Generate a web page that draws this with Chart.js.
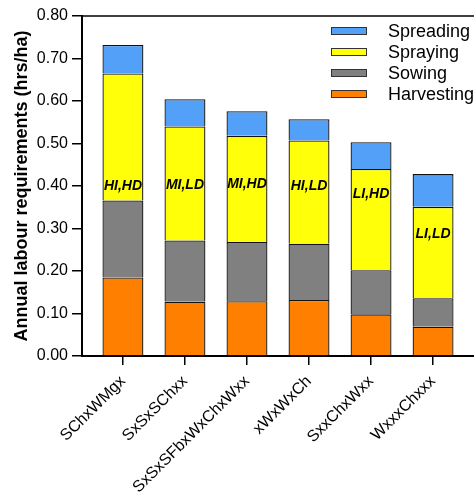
<!DOCTYPE html>
<html>
<head>
<meta charset="utf-8">
<script src="https://cdn.jsdelivr.net/npm/chart.js@4/dist/chart.umd.min.js"></script>
<style>
  html, body { margin: 0; padding: 0; background: #fff; }
  #wrap { width: 474px; height: 494px; }
</style>
</head>
<body>
<div id="wrap"><canvas id="c" width="474" height="494"></canvas></div>
<script>
// Crop sequences and their annual labour requirement per operation (hrs/ha)
const categories = ['SChxWMgx', 'SxSxSChxx', 'SxSxSFbxWxChxWxx', 'xWxWxCh', 'SxxChxWxx', 'WxxxChxxx'];
const harvesting = [0.185, 0.128, 0.129, 0.132, 0.098, 0.069];
const sowing     = [0.181, 0.144, 0.139, 0.132, 0.104, 0.067];
const spraying   = [0.299, 0.268, 0.250, 0.243, 0.238, 0.215];
const spreading  = [0.067, 0.064, 0.058, 0.050, 0.063, 0.077];
// Intensity / density scenario of each sequence
const scenarios  = ['HI,HD', 'MI,LD', 'MI,HD', 'HI,LD', 'LI,HD', 'LI,LD'];
const yTicks     = [0, 0.1, 0.2, 0.3, 0.4, 0.5, 0.6, 0.7, 0.8];

const FONT = "'Liberation Sans', Arial, Helvetica, sans-serif";
const toPoints = arr => arr.map((v, i) => ({ x: i, y: v }));

// Frame line along the top of the plot area
const topFrame = {
  id: 'topFrame',
  afterDraw(chart) {
    const { ctx, chartArea: a } = chart;
    ctx.save();
    ctx.strokeStyle = '#000';
    ctx.lineWidth = 1.5;
    ctx.beginPath();
    ctx.moveTo(a.left, a.top);
    ctx.lineTo(chart.width, a.top);
    ctx.stroke();
    ctx.restore();
  }
};

// Scenario tags written inside the spraying segment
const segTags = {
  id: 'segTags',
  afterDatasetsDraw(chart, args, opts) {
    const { ctx } = chart;
    const xs = chart.scales.x, ys = chart.scales.y;
    ctx.save();
    ctx.font = 'italic bold 14px ' + FONT;
    ctx.fillStyle = '#000';
    ctx.textAlign = 'center';
    ctx.textBaseline = 'middle';
    scenarios.forEach((t, i) => {
      ctx.fillText(t, xs.getPixelForValue(i), ys.getPixelForValue(opts.at[i]));
    });
    ctx.restore();
  }
};

// Legend in the upper right of the plot, top series first
const boxLegend = {
  id: 'boxLegend',
  afterDraw(chart, args, opts) {
    const { ctx } = chart;
    const sets = chart.data.datasets.slice().reverse();
    ctx.save();
    ctx.font = '18px ' + FONT;
    ctx.textBaseline = 'middle';
    ctx.textAlign = 'left';
    sets.forEach((ds, k) => {
      const y = opts.y + k * opts.step;
      ctx.fillStyle = ds.backgroundColor;
      ctx.fillRect(opts.x, y - 3.5, 36, 7);
      ctx.strokeStyle = '#333';
      ctx.lineWidth = 1;
      ctx.strokeRect(opts.x + 0.5, y - 3.5, 35, 7);
      ctx.fillStyle = '#000';
      ctx.fillText(ds.label, opts.x + 57, y + 1);
    });
    ctx.restore();
  }
};

const common = { borderColor: '#111', borderWidth: 1.3, barPercentage: 0.66, categoryPercentage: 1 };

new Chart(document.getElementById('c'), {
  type: 'bar',
  data: {
    datasets: [
      { label: 'Harvesting', data: toPoints(harvesting), backgroundColor: '#FF8000', ...common },
      { label: 'Sowing',     data: toPoints(sowing),     backgroundColor: '#808080', ...common },
      { label: 'Spraying',   data: toPoints(spraying),   backgroundColor: '#FFFF0A', ...common },
      { label: 'Spreading',  data: toPoints(spreading),  backgroundColor: '#52A0F8', ...common }
    ]
  },
  plugins: [topFrame, segTags, boxLegend],
  options: {
    responsive: false,
    animation: false,
    devicePixelRatio: 1,
    layout: { padding: { top: 16, right: 0, bottom: 0, left: 0 } },
    plugins: {
      legend: { display: false },
      tooltip: { enabled: false },
      segTags: { at: [0.400, 0.402, 0.405, 0.400, 0.381, 0.287] },
      boxLegend: { x: 331, y: 31, step: 21 }
    },
    scales: {
      x: {
        type: 'linear',
        stacked: true,
        offset: false,
        min: -0.66,
        max: 5.66,
        afterBuildTicks: s => { s.ticks = categories.map((_, i) => ({ value: i })); },
        afterFit: s => { s.height = 138; },
        ticks: {
          callback: v => categories[v],
          minRotation: 45,
          maxRotation: 45,
          padding: 7,
          color: '#000',
          font: { family: FONT, size: 16 }
        },
        grid: { offset: false, drawOnChartArea: false, tickLength: 9, color: '#000', lineWidth: 1.5 },
        border: { color: '#000', width: 2 }
      },
      y: {
        stacked: true,
        min: 0,
        max: 0.8,
        afterBuildTicks: s => { s.ticks = yTicks.map(v => ({ value: v })); },
        afterFit: s => { s.width = 82; },
        ticks: {
          callback: v => v.toFixed(2),
          padding: 4,
          color: '#000',
          font: { family: FONT, size: 16 }
        },
        grid: { drawOnChartArea: false, tickLength: 10, color: '#000', lineWidth: 1.5 },
        border: { color: '#000', width: 2 },
        title: {
          display: true,
          text: 'Annual labour requirements (hrs/ha)',
          color: '#000',
          font: { family: FONT, size: 18, weight: 'bold' },
          padding: { top: 11, bottom: 0 }
        }
      }
    }
  }
});
</script>
</body>
</html>
